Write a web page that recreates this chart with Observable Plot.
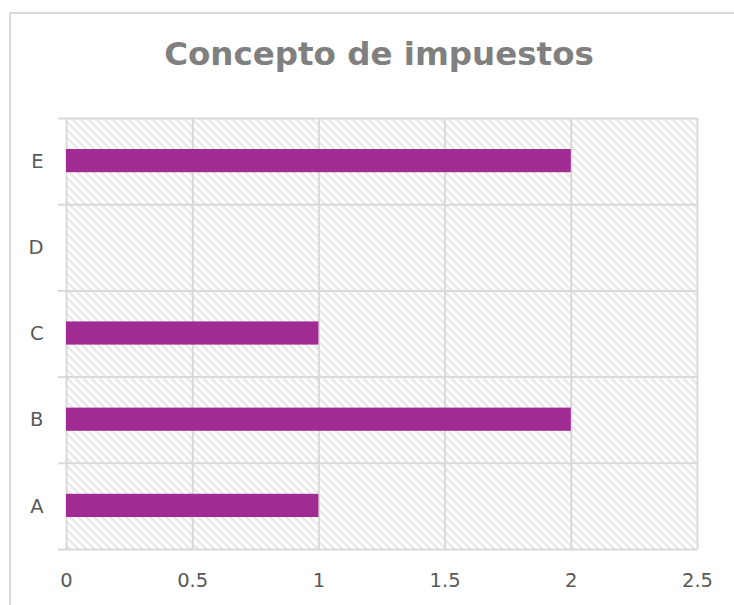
<!DOCTYPE html>
<html>
<head>
<meta charset="utf-8">
<script src="https://cdn.jsdelivr.net/npm/d3@7"></script>
<script src="https://cdn.jsdelivr.net/npm/@observablehq/plot@0.6"></script>
<style>
  html, body { margin: 0; padding: 0; background: #fff; overflow: hidden; }
  #wrap { position: relative; width: 734px; height: 605px; overflow: hidden; }
  #border { position: absolute; left: 9px; top: 12px; width: 760px; height: 700px;
            border-left: 2px solid #d9d9d9; border-top: 2px solid #d9d9d9; box-sizing: border-box; }
  #title { position: relative; margin-left: 9px; width: 737px; height: 95px; box-sizing: border-box;
           padding-top: 38px; padding-left: 3px; text-align: center; font-family: "DejaVu Sans", sans-serif; font-weight: 700;
           font-size: 32.5px; line-height: 32.5px; color: #808080; white-space: nowrap; }
  #chart { position: relative; }
  #chart svg { display: block; }
</style>
</head>
<body>
<div id="wrap">
  <div id="border"></div>
  <div id="title">Concepto de impuestos</div>
  <div id="chart"></div>
</div>
<script>
const categories = ["A", "B", "C", "D", "E"];
const values = [1, 2, 1, 0, 2];
const xTicks = [0, 0.5, 1, 1.5, 2, 2.5];
const barColor = "#A02B93";
const gridColor = "#d9d9d9";

const data = categories.map((c, i) => ({cat: c, idx: i, value: values[i]}));
const bandEdges = d3.range(categories.length + 1);
const bandCenters = categories.map((c, i) => i + 0.5);

const plot = Plot.plot({
  width: 734,
  height: 510,
  marginTop: 23,
  marginBottom: 56,
  marginLeft: 66,
  marginRight: 37,
  style: {fontFamily: "'DejaVu Sans', sans-serif", fontSize: "19.5px", color: "#595959", background: "transparent"},
  x: {domain: [0, 2.5], label: null},
  y: {domain: [0, categories.length], label: null},
  marks: [
    Plot.frame({fill: "url(#hatch)", stroke: "none"}),
    Plot.gridX({ticks: xTicks, stroke: gridColor, strokeOpacity: 1, strokeWidth: 2}),
    Plot.axisY({ticks: bandEdges, tickSize: 8, tickFormat: () => "", label: null, stroke: gridColor, strokeWidth: 2, strokeOpacity: 1}),
    Plot.gridY({ticks: bandEdges, stroke: gridColor, strokeOpacity: 1, strokeWidth: 2}),
    Plot.axisY({ticks: bandCenters, tickSize: 0, tickPadding: 23, label: null, tickFormat: v => categories[Math.round(v - 0.5)], fill: "#595959"}),
    Plot.axisX({ticks: xTicks, tickSize: 0, tickPadding: 24, label: null, tickFormat: d => String(d), fill: "#595959"}),
    Plot.rectX(data, {x1: 0, x2: "value", y1: "idx", y2: d => d.idx + 1, insetTop: 31, insetBottom: 32, fill: barColor})
  ]
});

const defs = d3.select(plot).insert("defs", ":first-child");
const pat = defs.append("pattern")
  .attr("id", "hatch").attr("patternUnits", "userSpaceOnUse")
  .attr("width", 8).attr("height", 8);
pat.append("rect").attr("width", 8).attr("height", 8).attr("fill", "#ffffff");
pat.append("path")
  .attr("d", "M0,0 L8,8 M-2,6 L2,10 M6,-2 L10,2")
  .attr("stroke", "#dadada").attr("stroke-width", 1.5).attr("fill", "none");

document.getElementById("chart").appendChild(plot);
</script>
</body>
</html>
